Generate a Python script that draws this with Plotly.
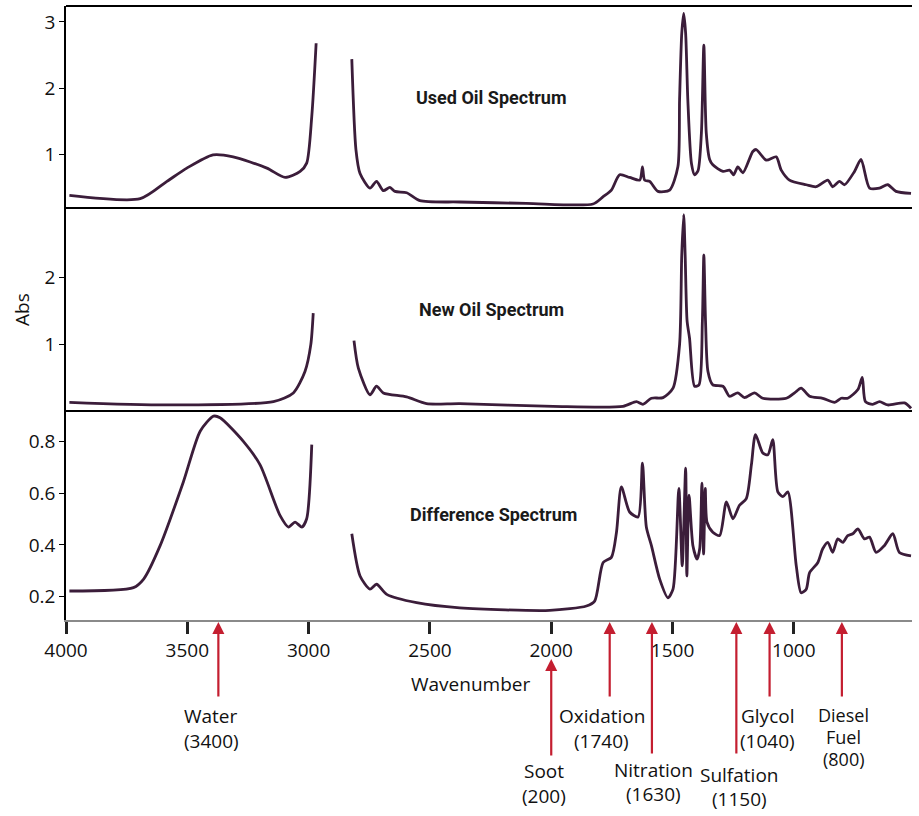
import plotly.graph_objects as go
from plotly.subplots import make_subplots

# ---------------- data ----------------
wn_used = [3986, 3694, 3584, 3502, 3394, 3311, 3172, 3097, 3035, 3008, 2987, 2969, None,
           2822, 2805, 2788, 2747, 2720, 2692, 2665, 2644, 2596, 2541, 2377, 2102, 1828,
           1786, 1752, 1718, 1677, 1635, 1624, 1615, 1594, 1560, 1512, 1478, 1471, 1462,
           1454, 1446, 1437, 1422, 1409, 1395, 1381, 1371, 1361, 1347, 1334, 1292, 1265,
           1248, 1231, 1210, 1169, 1155, 1114, 1073, 1052, 1018, 949, 908, 860, 840, 812,
           791, 750, 723, 688, 647, 613, 579, 517]
abs_used = [0.39, 0.34, 0.60, 0.80, 1.00, 0.97, 0.80, 0.66, 0.75, 0.875, 1.58, 2.68, None,
            2.44, 1.08, 0.72, 0.50, 0.60, 0.46, 0.51, 0.45, 0.43, 0.31, 0.29, 0.27, 0.26,
            0.37, 0.47, 0.70, 0.66, 0.62, 0.82, 0.62, 0.60, 0.45, 0.47, 0.82, 1.83, 2.83,
            3.13, 2.83, 1.83, 0.87, 0.70, 0.76, 1.33, 2.65, 1.33, 0.93, 0.85, 0.75, 0.77,
            0.70, 0.82, 0.73, 1.05, 1.08, 0.92, 0.97, 0.77, 0.62, 0.55, 0.52, 0.62, 0.52, 0.60,
            0.55, 0.75, 0.93, 0.50, 0.50, 0.55, 0.45, 0.42]

wn_new = [3986, 3584, 3145, 3063, 3015, 2991, 2981, None,
          2813, 2795, 2747, 2720, 2692, 2596, 2514, 2377, 1992, 1704, 1649, 1622, 1587,
          1539, 1498, 1471, 1462, 1454, 1448, 1440, 1430, 1409, 1391, 1377, 1371, 1364,
          1354, 1334, 1292, 1265, 1231, 1203, 1162, 1128, 1031, 997, 970, 935, 881, 832,
          805, 778, 736, 718, 705, 675, 647, 613, 544, 517]
abs_new = [0.13, 0.09, 0.14, 0.27, 0.59, 0.99, 1.46, None,
           1.05, 0.64, 0.24, 0.37, 0.27, 0.21, 0.11, 0.11, 0.07, 0.07, 0.14, 0.10, 0.19,
           0.20, 0.34, 0.99, 2.33, 2.93, 2.33, 1.34, 1.09, 0.37, 0.39, 1.34, 2.33, 1.34,
           0.59, 0.39, 0.37, 0.22, 0.27, 0.20, 0.27, 0.19, 0.19, 0.27, 0.34, 0.22, 0.19, 0.13,
           0.19, 0.19, 0.32, 0.50, 0.14, 0.10, 0.14, 0.09, 0.12, 0.04]

wn_diff = [3986, 3722, 3680, 3612, 3516, 3447, 3392, 3365, 3269, 3200, 3118, 3083, 3056,
           3028, 3008, 2987, None,
           2822, 2788, 2747, 2720, 2678, 2555, 2377, 2006, 1855, 1821, 1786, 1752, 1731,
           1711, 1677, 1642, 1624, 1608, 1587, 1553, 1519, 1498, 1474, 1460, 1446, 1441,
           1432, 1416, 1399, 1388, 1379, 1372, 1365, 1358, 1334, 1306, 1278, 1251, 1224,
           1196, 1175, 1158, 1128, 1107, 1087, 1066, 1045, 1025, 990, 970, 949, 935, 901,
           881, 860, 840, 819, 798, 778, 757, 736, 709, 688, 661, 627, 592, 565, 517]
abs_diff = [0.222, 0.235, 0.268, 0.397, 0.644, 0.839, 0.897, 0.891, 0.800, 0.709, 0.514,
            0.469, 0.488, 0.469, 0.501, 0.787, None,
            0.443, 0.280, 0.229, 0.248, 0.209, 0.177, 0.157, 0.147, 0.164, 0.183, 0.332,
            0.352, 0.449, 0.624, 0.527, 0.508, 0.716, 0.469, 0.397, 0.268, 0.196, 0.229,
            0.618, 0.319, 0.696, 0.280, 0.592, 0.397, 0.345, 0.385, 0.638, 0.365, 0.618,
            0.488, 0.449, 0.436, 0.566, 0.501, 0.553, 0.579, 0.709, 0.826, 0.755, 0.748,
            0.806, 0.605, 0.586, 0.605, 0.319, 0.215, 0.229, 0.293, 0.332, 0.385, 0.410,
            0.371, 0.423, 0.410, 0.436, 0.443, 0.462, 0.423, 0.430, 0.371, 0.397, 0.443,
            0.371, 0.358]

panel_titles = ["Used Oil Spectrum", "New Oil Spectrum", "Difference Spectrum"]

x_ticks = [4000, 3500, 3000, 2500, 2000, 1500, 1000]
y_ticks_used = [1, 2, 3]
y_ticks_new = [1, 2]
y_ticks_diff = [0.2, 0.4, 0.6, 0.8]

# marker arrows: wavenumber where each arrow points, and its label lines
marker_wn = [3372, 2000, 1759, 1585, 1237, 1100, 802]
marker_labels = [["Water", "(3400)"], ["Soot", "(200)"], ["Oxidation", "(1740)"],
                 ["Nitration", "(1630)"], ["Sulfation", "(1150)"], ["Glycol", "(1040)"],
                 ["Diesel", "Fuel", "(800)"]]

# ---------------- layout constants ----------------
W, H = 919, 816
M_L, M_R, M_T, M_B = 66, 7, 6, 196
PLOT_H = H - M_T - M_B
LINE = "#3b1d3a"
RED = "#c41e30"
FONT = "Open Sans, Noto Sans, sans-serif"
TITLE_FONT = "Roboto, Open Sans, sans-serif"


def py2paper(py):
    return (H - M_B - py) / PLOT_H


fig = make_subplots(rows=3, cols=1, shared_xaxes=True, vertical_spacing=0)

for i, (xs, ys) in enumerate([(wn_used, abs_used), (wn_new, abs_new), (wn_diff, abs_diff)]):
    fig.add_trace(go.Scatter(x=xs, y=ys, mode="lines",
                             line=dict(color=LINE, width=2.8, shape="spline", smoothing=0.7),
                             connectgaps=False, showlegend=False, hoverinfo="skip"),
                  row=i + 1, col=1)

dom_top = [py2paper(208), 1.0]
dom_mid = [py2paper(411), py2paper(208)]
dom_bot = [0.0, py2paper(411)]

yaxis_common = dict(showline=True, linecolor="black", linewidth=1.5, ticks="outside",
                    ticklen=5, tickwidth=1.3, tickcolor="black", showgrid=False,
                    zeroline=False, tickfont=dict(family=FONT, size=19, color="#111"))

fig.update_layout(
    width=W, height=H,
    margin=dict(l=M_L, r=M_R, t=M_T, b=M_B),
    paper_bgcolor="white", plot_bgcolor="white",
    font=dict(family=FONT, color="#111"),
    yaxis=dict(domain=dom_top, range=[0.2, 3.24], tickvals=y_ticks_used, **yaxis_common),
    yaxis2=dict(domain=dom_mid, range=[0.0, 3.03], tickvals=y_ticks_new, **yaxis_common),
    yaxis3=dict(domain=dom_bot, range=[0.11, 0.917], tickvals=y_ticks_diff,
                ticktext=[f"{v:.1f}" for v in y_ticks_diff], **yaxis_common),
)

x_range = [4000, 513]
for ax in ["xaxis", "xaxis2"]:
    fig.layout[ax].update(range=x_range, showline=False, showticklabels=False,
                          ticks="", showgrid=False, zeroline=False)
fig.layout["xaxis3"].update(range=x_range, showline=True, linecolor="#8a8a8a", linewidth=1.5,
                            ticks="outside", ticklen=12, tickwidth=2.5, tickcolor="#222",
                            tickvals=x_ticks, ticktext=[str(v) for v in x_ticks],
                            tickfont=dict(family=FONT, size=19, color="#111"),
                            showgrid=False, zeroline=False)

# panel separator / border lines
for yb in [1.0, py2paper(208), py2paper(411)]:
    fig.add_shape(type="line", xref="paper", yref="paper", x0=0, x1=1, y0=yb, y1=yb,
                  line=dict(color="black", width=2))

# panel titles
title_y = [py2paper(98), py2paper(309), py2paper(514)]
title_x = [(491 - M_L) / (W - M_L - M_R), (491 - M_L) / (W - M_L - M_R),
           (493 - M_L) / (W - M_L - M_R)]
for t, xx, yy in zip(panel_titles, title_x, title_y):
    fig.add_annotation(text=f"<b>{t}</b>", xref="paper", yref="paper", x=xx, y=yy,
                       showarrow=False, xanchor="center", yanchor="middle",
                       font=dict(family=TITLE_FONT, size=18, color="#1a1a1a"))

# axis titles
fig.add_annotation(text="Abs", xref="paper", yref="paper",
                   x=(22 - M_L) / (W - M_L - M_R), y=py2paper(310), textangle=-90,
                   showarrow=False, xanchor="center", yanchor="middle",
                   font=dict(family=FONT, size=19, color="#111"))
fig.add_annotation(text="Wavenumber", xref="paper", yref="paper",
                   x=(470 - M_L) / (W - M_L - M_R), y=py2paper(684),
                   showarrow=False, xanchor="center", yanchor="middle",
                   font=dict(family=FONT, size=19, color="#111"))

# arrows (head y px, tail y px) and label line y px / x shifts
arrow_head = [622, 659, 622, 622, 622, 622, 622]
arrow_tail = [698, 757, 698, 755, 755, 698, 698]
label_rows = [[716, 741], [771, 796], [716, 741], [770, 794], [775, 799], [716, 741],
              [715, 737, 759]]
label_size = [19, 19, 19, 19, 19, 19, 18]
label_shift = [-7, -7, -8, 2, 3, -2, 2]

for wn, hd, tl, lines, rows, sz, sh in zip(marker_wn, arrow_head, arrow_tail, marker_labels,
                                           label_rows, label_size, label_shift):
    fig.add_annotation(x=wn, y=py2paper(hd), xref="x3", yref="paper", text="",
                       showarrow=True, ax=0, ay=tl - hd, axref="pixel", ayref="pixel",
                       arrowhead=2, arrowsize=1.1, arrowwidth=2.2, arrowcolor=RED,
                       standoff=0, startstandoff=0)
    for line_txt, ry in zip(lines, rows):
        fig.add_annotation(x=wn, y=py2paper(ry), xref="x3", yref="paper", text=line_txt,
                           showarrow=False, xanchor="center", yanchor="middle", xshift=sh,
                           font=dict(family=FONT, size=sz, color="#111"))

fig.write_html("out.html", config={"displayModeBar": False},
               post_script="document.body.style.margin='0';document.body.style.overflow='hidden';")
